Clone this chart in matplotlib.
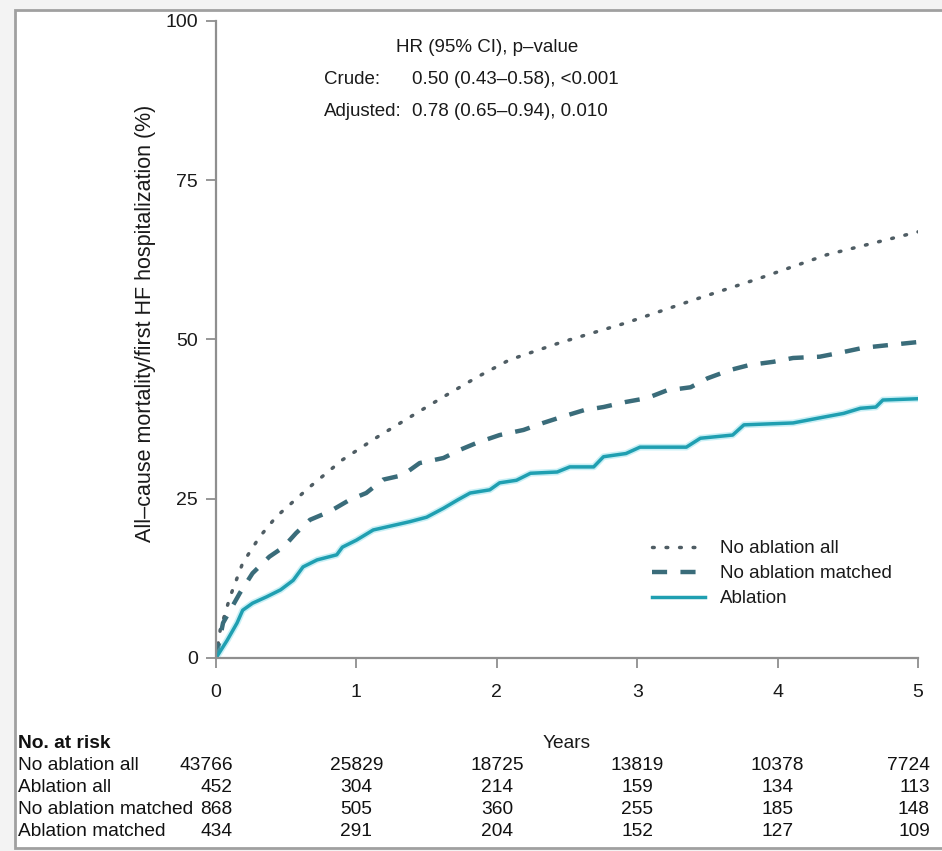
import matplotlib
matplotlib.use("Agg")
import matplotlib.pyplot as plt
import matplotlib.transforms as mtransforms
from matplotlib.patches import Rectangle

plt.rcParams['font.family'] = ['Liberation Sans', 'DejaVu Sans']

# curves (years, %)
noabl_all_x = [0, 0.03, 0.1, 0.19, 0.31, 0.43, 0.67, 0.9, 1.15, 1.38, 1.62, 1.86, 2.09,
               2.45, 2.92, 3.4, 3.87, 4.35, 4.82, 5.0]
noabl_all_y = [0, 4.4, 9.6, 14.9, 19.0, 22.2, 26.9, 31.1, 34.7, 37.8, 41.0, 44.1, 46.8,
               49.5, 52.6, 56.2, 59.6, 63.3, 65.9, 66.9]

noabl_m_x = [0, 0.05, 0.17, 0.26, 0.38, 0.48, 0.57, 0.67, 0.81, 0.95, 1.07, 1.19, 1.33,
             1.45, 1.62, 1.74, 1.86, 2.02, 2.19, 2.33, 2.47, 2.62, 2.76, 2.92, 3.07,
             3.21, 3.38, 3.5, 3.66, 3.8, 3.97, 4.11, 4.3, 4.44, 4.61, 4.78, 5.0]
noabl_m_y = [0, 5.5, 10.2, 13.3, 15.9, 17.4, 19.6, 21.7, 23.0, 24.8, 25.9, 28.0, 28.7,
             30.6, 31.4, 32.7, 33.8, 35.0, 35.8, 36.9, 37.9, 38.9, 39.4, 40.2, 40.8,
             42.0, 42.5, 43.9, 45.2, 46.0, 46.5, 47.1, 47.3, 47.9, 48.7, 49.1, 49.6]

abl_x = [0, 0.08, 0.15, 0.19, 0.26, 0.36, 0.46, 0.55, 0.62, 0.72, 0.86, 0.9, 1.0, 1.12,
         1.22, 1.38, 1.5, 1.62, 1.72, 1.81, 1.95, 2.02, 2.14, 2.24, 2.43, 2.52, 2.69,
         2.76, 2.92, 3.02, 3.35, 3.45, 3.68, 3.76, 4.11, 4.3, 4.47, 4.59, 4.7, 4.75, 5.0]
abl_y = [0, 2.8, 5.5, 7.5, 8.6, 9.6, 10.7, 12.2, 14.3, 15.4, 16.2, 17.4, 18.5, 20.1,
         20.6, 21.4, 22.1, 23.5, 24.8, 25.9, 26.4, 27.5, 27.9, 29.0, 29.2, 30.0, 30.0,
         31.6, 32.1, 33.1, 33.1, 34.5, 35.0, 36.6, 36.9, 37.7, 38.4, 39.2, 39.4, 40.5, 40.7]

risk_years = [0, 1, 2, 3, 4, 5]
risk_labels = ["No ablation all", "Ablation all", "No ablation matched", "Ablation matched"]
risk_counts = [
    [43766, 25829, 18725, 13819, 10378, 7724],
    [452, 304, 214, 159, 134, 113],
    [868, 505, 360, 255, 185, 148],
    [434, 291, 204, 152, 127, 109],
]

W, H = 942, 851
fig = plt.figure(figsize=(W / 100, H / 100), dpi=100)
fig.patch.set_facecolor('#f3f3f3')
fig.patches.append(Rectangle((15 / W, 3 / H), 1.0, (848 - 10) / H, transform=fig.transFigure,
                             facecolor='white', edgecolor='#a0a0a0', lw=2, zorder=-5))

ax = fig.add_axes([216 / W, 1 - 658 / H, (918 - 216) / W, (658 - 21) / H])
ax.set_facecolor('none')

ax.plot(noabl_all_x, noabl_all_y, color='#4f5d64', lw=2.5, ls=(0, (0.5, 3.4)),
        dash_capstyle='round', label='No ablation all')
ax.plot(noabl_m_x, noabl_m_y, color='#3a6c7a', lw=3.2, ls=(0, (3.4, 3.0)),
        label='No ablation matched')
ax.plot(abl_x, abl_y, color='#64d3e3', lw=4.8, alpha=0.35)
ax.plot(abl_x, abl_y, color='#1f9fb1', lw=2.5, label='Ablation')

ax.set_xlim(0, 5)
ax.set_ylim(0, 100)
ax.set_xticks(risk_years)
ax.set_yticks([0, 25, 50, 75, 100])
for s in ['top', 'right']:
    ax.spines[s].set_visible(False)
for s in ['left', 'bottom']:
    ax.spines[s].set_color('#8f8f8f')
    ax.spines[s].set_linewidth(1.6)
ax.tick_params(axis='both', colors='#8f8f8f', width=1.3, labelcolor='#1a1a1a', labelsize=14)
ax.tick_params(axis='y', length=7, pad=6)
ax.tick_params(axis='x', length=7, pad=12)

fig.text(146 / W, 1 - 323 / H, "All\u2013cause mortality/first HF hospitalization (%)",
         rotation=90, ha='center', va='center', fontsize=15.5, color='#1a1a1a')

# hazard ratio box
fs = 13.5
ax.text(396 / W, 1 - 47 / H, "HR (95% CI), p\u2013value", transform=fig.transFigure,
        ha='left', va='center', fontsize=fs, color='#1a1a1a')
ax.text(324 / W, 1 - 80 / H, "Crude:", transform=fig.transFigure,
        ha='left', va='center', fontsize=fs, color='#1a1a1a')
ax.text(412 / W, 1 - 80 / H, "0.50 (0.43\u20130.58), <0.001", transform=fig.transFigure,
        ha='left', va='center', fontsize=fs, color='#1a1a1a')
ax.text(324 / W, 1 - 112 / H, "Adjusted:", transform=fig.transFigure,
        ha='left', va='center', fontsize=fs, color='#1a1a1a')
ax.text(412 / W, 1 - 112 / H, "0.78 (0.65\u20130.94), 0.010", transform=fig.transFigure,
        ha='left', va='center', fontsize=fs, color='#1a1a1a')

leg = ax.legend(loc='upper left', bbox_to_anchor=(652 / W, 1 - 540 / H),
                bbox_transform=fig.transFigure, frameon=False, fontsize=13.5,
                handlelength=2.8, handletextpad=0.8, labelspacing=0.42,
                borderpad=0, borderaxespad=0)
for t in leg.get_texts():
    t.set_color('#1a1a1a')

# risk table
blend = mtransforms.blended_transform_factory(ax.transData, fig.transFigure)
row_y = [743, 765, 787, 809, 831]
tfs = 13.8
fig.text(18 / W, 1 - row_y[0] / H, "No. at risk", fontweight='bold', fontsize=tfs,
         ha='left', va='center', color='#111111')
fig.text(2.5, 1 - row_y[0] / H, "Years", transform=blend, fontsize=tfs,
         ha='center', va='center', color='#1a1a1a')
for i, lab in enumerate(risk_labels):
    yy = 1 - row_y[i + 1] / H
    fig.text(18 / W, yy, lab, fontsize=tfs, ha='left', va='center', color='#111111')
    for j, yr in enumerate(risk_years):
        if j == 0:
            xx, ha = 0.12, 'right'
        elif j == len(risk_years) - 1:
            xx, ha = 5.085, 'right'
        else:
            xx, ha = yr, 'center'
        fig.text(xx, yy, str(risk_counts[i][j]), transform=blend, fontsize=tfs,
                 ha=ha, va='center', color='#111111')

fig.savefig('out.png', dpi=100)
